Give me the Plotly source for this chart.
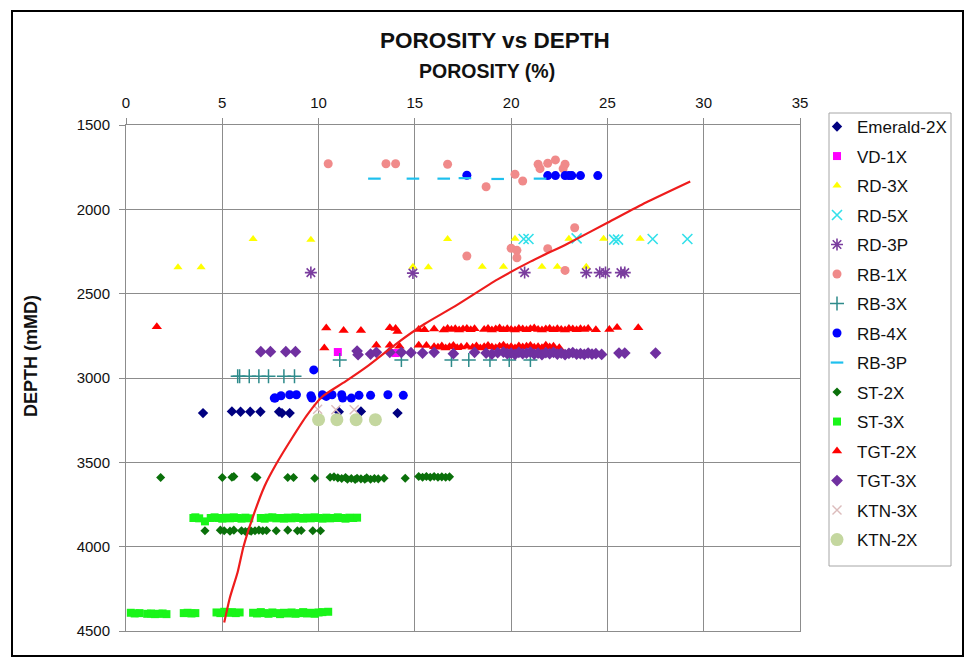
import plotly.graph_objects as go

# ---------------- data: porosity (%) and depth (mMD) per well ----------------
emerald_por = [4.0, 5.5, 5.95, 6.45, 6.98, 7.95, 8.1, 8.5, 11.05, 12.2, 14.1]
emerald_dep = [3208, 3198, 3200, 3200, 3200, 3200, 3208, 3208, 3200, 3198, 3208]

vd1_por = [11.0, 14.0]
vd1_dep = [2846, 2852]

rd3x_por = [2.7, 3.9, 6.6, 9.6, 14.9, 15.7, 16.7, 18.5, 19.6, 20.2, 21.6, 22.4, 23.0, 23.9, 24.8, 26.7]
rd3x_dep = [2344, 2344, 2176, 2180, 2340, 2344, 2176, 2340, 2340, 2174, 2340, 2340, 2174, 2340, 2174, 2174]

rd5x_por = [20.65, 20.9, 23.4, 25.35, 25.55, 27.35, 29.15]
rd5x_dep = [2176, 2176, 2172, 2180, 2180, 2176, 2176]

rd3p_por = [9.6, 14.9, 20.7, 23.9, 24.6, 24.9, 25.7, 25.9]
rd3p_dep = [2375, 2378, 2375, 2375, 2375, 2375, 2375, 2375]

rb1x_por = [10.5, 13.5, 14.0, 16.7, 18.7, 20.2, 20.6, 21.4, 21.5, 21.9, 22.3, 22.8, 22.7,
            23.3, 17.7, 20.0, 20.3, 20.3, 21.9, 22.8]
rb1x_dep = [1730, 1730, 1730, 1733, 1866, 1792, 1832, 1733, 1759, 1727, 1707, 1733, 1759,
            2109, 2277, 2231, 2243, 2287, 2233, 2362]

rb3x_por = [5.8, 5.9, 6.4, 6.9, 7.4, 8.2, 8.75, 11.1, 14.3, 16.9, 17.8, 18.9, 19.9, 21.0]
rb3x_dep = [2990, 2990, 2990, 2990, 2990, 2990, 2990, 2894, 2894, 2894, 2894, 2894, 2894, 2894]

rb4x_por = [17.7, 21.9, 22.3, 22.8, 23.0, 23.15, 23.6, 24.5,
            9.75,
            7.7, 7.75, 8.05, 8.5, 8.85, 9.6, 9.65, 10.2, 10.4, 10.7, 11.2, 11.25, 11.7, 12.1,
            12.7, 13.6, 14.4]
rb4x_dep = [1798, 1800, 1800, 1800, 1800, 1800, 1800, 1800,
            2952,
            3119, 3119, 3105, 3099, 3099, 3105, 3119, 3099, 3109, 3099, 3099, 3119, 3119, 3103,
            3103, 3099, 3103]

rb3p_por = [12.9, 14.9, 16.5, 17.6, 19.3, 21.5]
rb3p_dep = [1818, 1818, 1818, 1815, 1820, 1818]

st2x_upper_por = [1.8, 5.0, 5.5, 5.6, 6.7, 6.8, 8.4, 8.7, 9.8, 10.6,
                  10.8, 11.0, 11.2, 11.4, 11.5, 11.7, 11.9, 12.0, 12.2, 12.4,
                  12.5, 12.7, 12.9, 13.1, 13.4, 14.5, 15.2, 15.4, 15.6, 15.8,
                  16.0, 16.2, 16.4, 16.6, 16.8]
st2x_upper_dep = [3590, 3590, 3588, 3584, 3584, 3590, 3590, 3590, 3594, 3588,
                  3586, 3592, 3596, 3590, 3600, 3596, 3602, 3594, 3598, 3600,
                  3592, 3600, 3596, 3598, 3594, 3594, 3584, 3588, 3584, 3588,
                  3584, 3588, 3586, 3588, 3586]
st2x_lower_por = [4.1, 4.9, 5.1, 5.4, 5.6, 6.0, 6.2, 6.4, 6.5, 6.7,
                  6.9, 7.1, 7.3, 7.8, 8.4, 8.9, 9.1, 9.7, 10.1]
st2x_lower_dep = [3906, 3902, 3906, 3908, 3902, 3906, 3910, 3904, 3908, 3906,
                  3902, 3906, 3904, 3906, 3902, 3906, 3904, 3906, 3906]

st3x_upper_por = [3.5, 3.6, 3.8, 4.1, 4.4, 4.6, 4.8, 5.0, 5.2, 5.4,
                  5.6, 5.8, 6.0, 6.2, 6.4, 7.0, 7.2, 7.4, 7.6, 7.8,
                  8.0, 8.2, 8.4, 8.6, 8.8, 9.0, 9.2, 9.4, 9.6, 9.8,
                  10.0, 10.2, 10.4, 10.6, 10.8, 11.0, 11.2, 11.4, 11.6, 11.8,
                  12.0]
st3x_upper_dep = [3830, 3826, 3832, 3850, 3830, 3826, 3830, 3834, 3828, 3832,
                  3826, 3830, 3834, 3828, 3832, 3830, 3834, 3828, 3826, 3832,
                  3830, 3834, 3828, 3832, 3826, 3830, 3834, 3828, 3832, 3826,
                  3830, 3834, 3828, 3832, 3830, 3826, 3830, 3834, 3828, 3830,
                  3828]
st3x_lower_por = [0.25, 0.45, 0.7, 1.1, 1.3, 1.5, 1.7, 1.9, 2.1, 3.0,
                  3.2, 3.4, 3.6, 4.7, 4.9, 5.1, 5.3, 5.5, 5.7, 5.9,
                  6.6, 6.8, 7.0, 7.2, 7.4, 7.6, 7.8, 8.0, 8.2, 8.4,
                  8.6, 8.8, 9.0, 9.2, 9.4, 9.6, 9.8, 10.0, 10.2, 10.5]
st3x_lower_dep = [4392, 4396, 4394, 4398, 4396, 4400, 4398, 4396, 4400, 4394,
                  4392, 4396, 4394, 4390, 4394, 4386, 4392, 4388, 4394, 4390,
                  4392, 4396, 4388, 4394, 4398, 4390, 4394, 4400, 4392, 4396,
                  4390, 4398, 4394, 4388, 4396, 4392, 4398, 4390, 4388, 4386]

tgt2x_upper_por = [1.6, 10.4, 11.3, 12.2, 13.7, 14.0, 14.1, 15.2, 15.5, 16.0,
                   16.5, 16.7, 16.9, 17.1, 17.3, 17.5, 17.7, 17.9, 18.1, 18.6,
                   18.8, 19.0, 19.2, 19.4, 19.6, 19.8, 20.0, 20.2, 20.4, 20.6,
                   20.8, 21.0, 21.2, 21.4, 21.6, 21.8, 22.0, 22.2, 22.4, 22.6,
                   22.8, 23.0, 23.2, 23.4, 23.6, 23.8, 24.0, 24.4, 25.1, 25.5,
                   26.6]
tgt2x_upper_dep = [2696, 2703, 2718, 2718, 2702, 2706, 2724, 2712, 2714, 2710,
                   2716, 2706, 2712, 2708, 2716, 2710, 2706, 2714, 2708, 2712,
                   2706, 2716, 2710, 2704, 2714, 2708, 2712, 2716, 2706, 2710,
                   2714, 2708, 2704, 2712, 2716, 2710, 2706, 2714, 2708, 2712,
                   2716, 2706, 2710, 2714, 2708, 2712, 2706, 2714, 2712, 2700,
                   2702]
tgt2x_lower_por = [10.3, 13.0, 13.7, 14.2, 15.2, 15.6, 16.0, 16.2, 16.4, 16.6,
                   16.8, 17.0, 17.2, 17.4, 17.7, 18.0, 18.2, 18.4, 18.6, 18.8,
                   19.0, 19.2, 19.4, 19.6, 19.8, 20.0, 20.2, 20.4, 20.6, 20.8,
                   21.0, 21.2, 21.4, 21.6, 21.8, 22.0, 22.2, 22.5]
tgt2x_lower_dep = [2822, 2806, 2806, 2812, 2806, 2808, 2814, 2818, 2810, 2822,
                   2814, 2808, 2820, 2816, 2812, 2818, 2810, 2822, 2814, 2808,
                   2816, 2820, 2812, 2806, 2818, 2814, 2822, 2810, 2816, 2812,
                   2808, 2818, 2814, 2820, 2806, 2816, 2812, 2820]

tgt3x_por = [7.0, 7.5, 8.3, 8.8, 12.0, 12.05, 12.7, 13.0, 13.7, 14.3,
             14.8, 15.4, 16.0, 17.0, 18.1, 18.7, 19.0, 19.3, 19.6, 19.8,
             20.0, 20.2, 20.4, 20.6, 20.8, 21.0, 21.2, 21.4, 21.6, 21.8,
             22.0, 22.2, 22.4, 22.6, 22.8, 23.0, 23.2, 23.4, 23.6, 23.8,
             24.0, 24.2, 24.4, 24.7, 25.6, 25.9, 27.5]
tgt3x_dep = [2844, 2844, 2844, 2844, 2840, 2862, 2858, 2848, 2848, 2848,
             2850, 2852, 2848, 2856, 2848, 2852, 2858, 2850, 2846, 2856,
             2852, 2860, 2848, 2856, 2852, 2846, 2858, 2852, 2862, 2850,
             2856, 2848, 2858, 2852, 2862, 2854, 2850, 2858, 2856, 2860,
             2852, 2858, 2856, 2860, 2852, 2852, 2852]

ktn3x_por = [9.95, 10.9, 11.85]
ktn3x_dep = [3185, 3188, 3188]

ktn2x_por = [10.0, 10.95, 11.95, 12.95]
ktn2x_dep = [3247, 3247, 3247, 3247]

# porosity-depth trend line
trend_por = [5.1, 5.4, 5.8, 6.1, 6.6, 7.2, 7.8, 8.6, 9.4, 10.2, 11.4, 12.6, 14.0,
             15.5, 17.0, 19.3, 21.0, 22.9, 25.0, 27.0, 29.3]
trend_dep = [4450, 4300, 4150, 4000, 3820, 3640, 3510, 3360, 3220, 3110, 3020, 2925, 2800,
             2680, 2580, 2415, 2310, 2205, 2080, 1960, 1835]

FONT = "Liberation Sans, Arial, sans-serif"

# (name, x, y, symbol, size, color, line width for open symbols)
series = [
    ("Emerald-2X", emerald_por, emerald_dep, "diamond", 8, "#000080", 0),
    ("VD-1X", vd1_por, vd1_dep, "square", 8, "#ff00ff", 0),
    ("RD-3X", rd3x_por, rd3x_dep, "triangle-up", 8, "#ffff00", 0),
    ("RD-5X", rd5x_por, rd5x_dep, "x-thin-open", 10, "#33e0ea", 1.6),
    ("RD-3P", rd3p_por, rd3p_dep, "asterisk-open", 10, "#7a3d9e", 1.6),
    ("RB-1X", rb1x_por, rb1x_dep, "circle", 9, "#f08a8a", 0),
    ("RB-3X", rb3x_por, rb3x_dep, "cross-thin-open", 10, "#2e8b8b", 1.5),
    ("RB-4X", rb4x_por, rb4x_dep, "circle", 9, "#0000ff", 0),
    ("RB-3P", rb3p_por, rb3p_dep, "line-ew-open", 9, "#1ec0ee", 2.2),
    ("ST-2X", st2x_upper_por + st2x_lower_por, st2x_upper_dep + st2x_lower_dep,
     "diamond", 7, "#0a700a", 0),
    ("ST-3X", st3x_upper_por + st3x_lower_por, st3x_upper_dep + st3x_lower_dep,
     "square", 8, "#19f519", 0),
    ("TGT-2X", tgt2x_upper_por + tgt2x_lower_por, tgt2x_upper_dep + tgt2x_lower_dep,
     "triangle-up", 9, "#ff0000", 0),
    ("TGT-3X", tgt3x_por, tgt3x_dep, "diamond", 9, "#7030a0", 0),
    ("KTN-3X", ktn3x_por, ktn3x_dep, "x-thin-open", 9, "#dcbcbc", 1.4),
    ("KTN-2X", ktn2x_por, ktn2x_dep, "circle", 13, "#c4d79f", 0),
]

fig = go.Figure()
for name, xs, ys, sym, size, color, lw in series:
    marker = dict(symbol=sym, size=size, color=color)
    if lw:
        marker["line"] = dict(width=lw, color=color)
    else:
        marker["line"] = dict(width=0)
    fig.add_trace(go.Scatter(x=xs, y=ys, mode="markers", name=name, legendgroup=name,
                             marker=marker))

fig.add_trace(go.Scatter(x=trend_por, y=trend_dep, mode="lines", showlegend=False,
                         line=dict(color="#ee1c1c", width=2.2, shape="spline", smoothing=0.6)))

# pixel geometry of the plotting area
L, R, T, B = 126, 800, 125, 631
W, H = 970, 659
pw, ph = R - L, B - T


def px(x):
    return (x - L) / pw


def py(y):
    return (B - y) / ph


fig.update_layout(
    width=W, height=H,
    margin=dict(l=L, r=W - R, t=T, b=H - B, pad=0),
    paper_bgcolor="white", plot_bgcolor="white",
    font=dict(family=FONT, size=15, color="#111"),
    showlegend=True,
    legend=dict(x=px(817), y=py(558), xanchor="left", yanchor="bottom",
                font=dict(family=FONT, size=17, color="#111"),
                bgcolor="rgba(0,0,0,0)", borderwidth=0,
                tracegroupgap=4.4, traceorder="grouped"),
    xaxis=dict(side="top", range=[0, 35], dtick=5, tick0=0,
               showgrid=True, gridcolor="#8c8c8c", gridwidth=1,
               showline=True, linecolor="#8c8c8c", linewidth=1, mirror=True,
               ticks="outside", ticklen=6, tickcolor="#8c8c8c",
               ticklabelstandoff=4, zeroline=False,
               tickfont=dict(family=FONT, size=15, color="#111")),
    yaxis=dict(range=[4500, 1500], dtick=500, tick0=1500,
               showgrid=True, gridcolor="#8c8c8c", gridwidth=1,
               showline=True, linecolor="#8c8c8c", linewidth=1, mirror=True,
               ticks="outside", ticklen=6, tickcolor="#8c8c8c",
               ticklabelstandoff=6, zeroline=False,
               tickfont=dict(family=FONT, size=15, color="#111")),
    annotations=[
        dict(text="<b>POROSITY vs DEPTH</b>", xref="paper", yref="paper",
             x=px(495), y=py(40), xanchor="center", yanchor="middle",
             showarrow=False, font=dict(family=FONT, size=22.5, color="#111")),
        dict(text="<b>POROSITY (%)</b>", xref="paper", yref="paper",
             x=px(487), y=py(71), xanchor="center", yanchor="middle",
             showarrow=False, font=dict(family=FONT, size=19.5, color="#111")),
        dict(text="<b>DEPTH (mMD)</b>", xref="paper", yref="paper", textangle=-90,
             x=px(31), y=py(356), xanchor="center", yanchor="middle",
             showarrow=False, font=dict(family=FONT, size=18, color="#111")),
    ],
    shapes=[
        # outer chart frame
        dict(type="rect", xref="paper", yref="paper",
             x0=px(12), x1=px(963), y0=py(656), y1=py(11),
             line=dict(color="#000", width=2), layer="above"),
        # legend box
        dict(type="rect", xref="paper", yref="paper",
             x0=px(829), x1=px(951), y0=py(566), y1=py(113),
             line=dict(color="#a6a6a6", width=1), layer="above"),
    ],
)

fig.write_html("out.html")
